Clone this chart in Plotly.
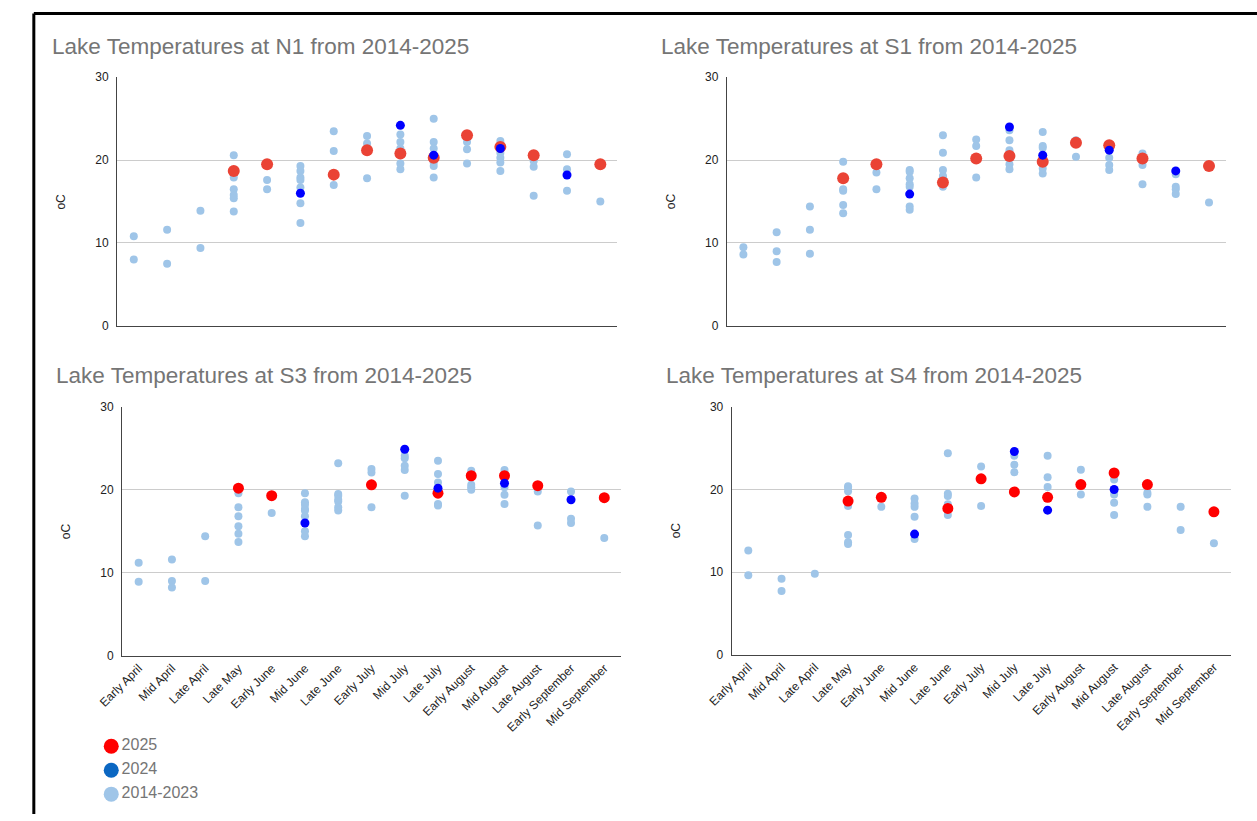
import plotly.graph_objects as go

# Sampling periods (x categories)
periods = ["Early April", "Mid April", "Late April", "Late May", "Early June",
           "Mid June", "Late June", "Early July", "Mid July", "Late July",
           "Early August", "Mid August", "Late August", "Early September",
           "Mid September"]

# ---- N1 ----
n1_hist = [[10.8, 8.0], [11.6, 7.5], [13.9, 9.4],
           [20.6, 17.9, 16.5, 15.8, 15.4, 13.8], [17.6, 16.5],
           [19.3, 18.7, 17.9, 17.6, 16.7, 14.8, 12.4], [23.5, 21.1, 17.0],
           [22.9, 22.0, 17.8], [23.1, 22.2, 21.4, 19.6, 18.9],
           [25.0, 22.2, 21.4, 19.7, 19.3, 17.9], [22.2, 21.3, 19.6],
           [22.3, 20.9, 20.3, 19.7, 18.7], [19.9, 19.2, 15.7],
           [20.7, 18.9, 16.3], [15.0]]
n1_2024 = [None, None, None, None, None, 16.0, None, None, 24.2, 20.6,
           None, 21.4, None, 18.2, None]
n1_2025 = [None, None, None, 18.7, 19.5, None, 18.25, 21.2, 20.8, 20.3,
           23.0, 21.6, 20.6, None, 19.5]

# ---- S1 ----
s1_hist = [[9.5, 8.6], [11.3, 9.0, 7.7], [14.4, 11.6, 8.7],
           [19.8, 16.5, 16.3, 14.6, 13.6], [18.5, 16.5],
           [18.8, 18.6, 17.8, 17.1, 16.8, 14.4, 14.0],
           [23.0, 20.9, 18.8, 18.1, 17.9, 16.8], [22.5, 21.7, 17.9],
           [23.6, 22.4, 21.2, 19.5, 18.9], [23.4, 21.7, 21.5, 19.0, 18.4],
           [22.4, 20.4], [20.3, 19.4, 18.8], [20.8, 19.4, 17.1],
           [18.3, 16.8, 16.5, 15.9], [14.9]]
s1_2024 = [None, None, None, None, None, 15.9, None, None, 24.0, 20.6,
           None, 21.2, None, 18.7, None]
s1_2025 = [None, None, None, 17.8, 19.5, None, 17.3, 20.2, 20.5, 19.8,
           22.1, 21.8, 20.2, None, 19.3]

# ---- S3 ----
s3_hist = [[11.2, 8.9], [11.6, 9.0, 8.2], [14.4, 9.0],
           [19.6, 17.9, 16.8, 15.6, 14.7, 13.7], [17.2],
           [19.6, 18.5, 18.2, 17.7, 17.5, 16.8, 15.0, 14.4],
           [23.2, 19.5, 19.3, 18.8, 18.6, 17.9, 17.5], [22.5, 22.1, 17.9],
           [24.1, 23.8, 22.9, 22.4, 19.3], [23.5, 21.9, 20.9, 18.3, 18.1],
           [22.3, 20.6, 20.3, 20.0], [22.4, 20.3, 19.4, 18.3], [19.8, 15.7],
           [19.8, 16.5, 16.0], [14.2]]
s3_2024 = [None, None, None, None, None, 16.0, None, None, 24.9, 20.2,
           None, 20.8, None, 18.8, None]
s3_2025 = [None, None, None, 20.2, 19.3, None, None, 20.6, None, 19.6,
           21.7, 21.7, 20.5, None, 19.05]

# ---- S4 ----
s4_hist = [[12.6, 9.6], [9.2, 7.7], [9.8],
           [20.4, 20.2, 19.8, 18.0, 14.5, 13.6, 13.4], [17.9],
           [18.9, 18.3, 17.9, 16.7, 14.0], [24.4, 19.5, 19.2, 18.2, 16.9],
           [22.8, 18.0], [24.1, 23.0, 22.1], [24.1, 21.5, 20.3],
           [22.4, 19.4], [21.2, 19.4, 18.4, 16.9], [19.6, 19.4, 17.9],
           [17.9, 15.1], [13.5]]
s4_2024 = [None, None, None, None, None, 14.6, None, None, 24.6, 17.5,
           None, 20.0, None, None, None]
s4_2025 = [None, None, None, 18.6, 19.05, None, 17.7, 21.3, 19.7, 19.05,
           20.6, 22.0, 20.6, None, 17.3]

stations = ["N1", "S1", "S3", "S4"]
legend_labels = ["2025", "2024", "2014-2023"]

HIST_C = "#9fc5e8"
BLUE_C = "#0000ff"
FONT = "Liberation Sans, Arial, sans-serif"

# panel geometry in pixels: plot area x/y extents, red tone and size, title position
W, H = 1257, 821
panels = [
    dict(dx=(94, 604), dy=(72, 325), red="#ea4335", rs=12, tx=25, ty=41, lab=False),
    dict(dx=(716, 1225), dy=(72, 325), red="#ea4335", rs=12, tx=647, ty=41, lab=False),
    dict(dx=(99, 608), dy=(407, 660), red="#ff0000", rs=11, tx=30, ty=375, lab=True),
    dict(dx=(721, 1230), dy=(407, 659), red="#ff0000", rs=11, tx=652, ty=375, lab=True),
]
series = [(n1_hist, n1_2024, n1_2025), (s1_hist, s1_2024, s1_2025),
          (s3_hist, s3_2024, s3_2025), (s4_hist, s4_2024, s4_2025)]

fig = go.Figure()
annotations = []
layout = {}

for i, (st, p, (hist, y24, y25)) in enumerate(zip(stations, panels, series)):
    n = "" if i == 0 else str(i + 1)
    xa, ya = "x" + n, "y" + n
    hx = [periods[k] for k, vals in enumerate(hist) for _ in vals]
    hy = [v for vals in hist for v in vals]
    fig.add_trace(go.Scatter(x=hx, y=hy, mode="markers", xaxis=xa, yaxis=ya,
                             marker=dict(color=HIST_C, size=8), showlegend=False))
    fig.add_trace(go.Scatter(x=periods, y=y25, mode="markers", xaxis=xa, yaxis=ya,
                             marker=dict(color=p["red"], size=p["rs"]), showlegend=False))
    fig.add_trace(go.Scatter(x=periods, y=y24, mode="markers", xaxis=xa, yaxis=ya,
                             marker=dict(color=BLUE_C, size=9), showlegend=False))

    layout["xaxis" + n] = dict(
        domain=[p["dx"][0] / W, p["dx"][1] / W], anchor=ya,
        type="category", categoryorder="array", categoryarray=periods,
        range=[-0.5, len(periods) - 0.5], showgrid=False, zeroline=False,
        showline=True, linecolor="#444444", linewidth=1,
        showticklabels=p["lab"], tickangle=-45,
        tickfont=dict(family=FONT, size=12, color="#222222"))
    layout["yaxis" + n] = dict(
        domain=[1 - p["dy"][1] / H, 1 - p["dy"][0] / H], anchor=xa,
        range=[0, 30.05], tickvals=[0, 10, 20, 30], showgrid=True,
        gridcolor="#cccccc", gridwidth=1, zeroline=False,
        showline=True, linecolor="#444444", linewidth=1,
        ticklabelstandoff=5,
        tickfont=dict(family=FONT, size=12, color="#222222"))

    annotations.append(dict(
        text=f"Lake Temperatures at {st} from 2014-2025", xref="paper", yref="paper",
        x=p["tx"] / W, y=1 - p["ty"] / H, xanchor="left", yanchor="middle",
        showarrow=False, font=dict(family=FONT, size=22.5, color="#757575")))
    annotations.append(dict(
        text="oC", xref="paper", yref="paper", textangle=-90,
        x=(p["dx"][0] - 57) / W, y=1 - (sum(p["dy"]) / 2) / H,
        xanchor="center", yanchor="middle", showarrow=False,
        font=dict(family=FONT, size=12, color="#222222")))

# legend drawn on its own hidden axes
leg_colors = ["#ff0000", "#0b67c2", HIST_C]
leg_y = [2, 1, 0]
fig.add_trace(go.Scatter(x=[0, 0, 0], y=leg_y, mode="markers+text",
                         text=legend_labels, textposition="middle right",
                         textfont=dict(family=FONT, size=16, color="#757575"),
                         marker=dict(color=leg_colors, size=15),
                         xaxis="x5", yaxis="y5", showlegend=False, cliponaxis=False))
layout["xaxis5"] = dict(domain=[80 / W, 96 / W], range=[-1, 1], visible=False,
                        anchor="y5", fixedrange=True)
layout["yaxis5"] = dict(domain=[1 - 813 / H, 1 - 740 / H], range=[-0.5, 2.5],
                        visible=False, anchor="x5", fixedrange=True)

# frame around the sheet
shapes = [
    dict(type="line", xref="paper", yref="paper", x0=9 / W, x1=1, y0=1 - 7.5 / H,
         y1=1 - 7.5 / H, line=dict(color="#000000", width=3)),
    dict(type="line", xref="paper", yref="paper", x0=9 / W, x1=9 / W, y0=0,
         y1=1 - 7.5 / H, line=dict(color="#000000", width=3)),
]

fig.update_layout(
    width=W, height=H, margin=dict(l=0, r=0, t=0, b=0),
    paper_bgcolor="#ffffff", plot_bgcolor="#ffffff",
    showlegend=False, annotations=annotations, shapes=shapes,
    font=dict(family=FONT), **layout)

fig.write_html("out.html", config={"displayModeBar": False})
